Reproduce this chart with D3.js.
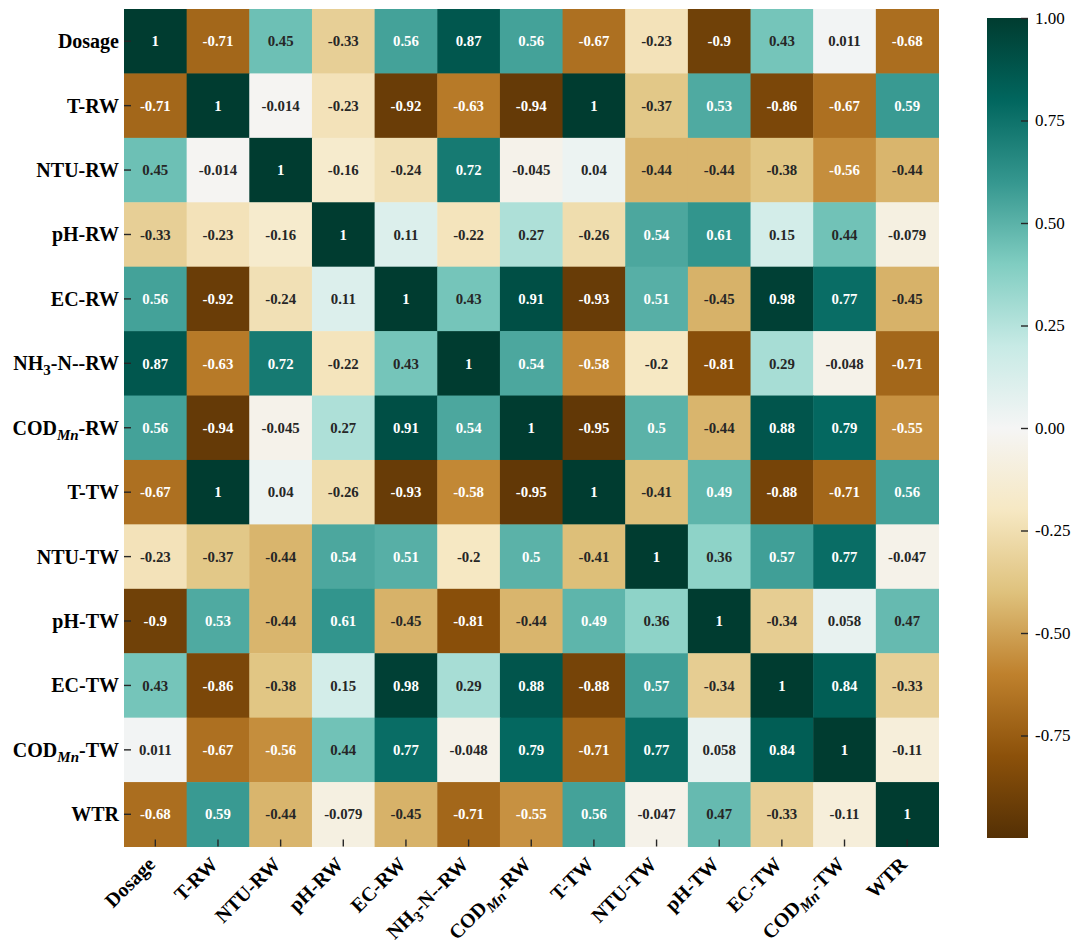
<!DOCTYPE html>
<html>
<head>
<meta charset="utf-8">
<script src="https://d3js.org/d3.v7.min.js"></script>
<style>
  body { margin: 0; background: #fff; }
  svg text { font-family: "Liberation Serif", "Times New Roman", serif; }
</style>
</head>
<body>
<svg id="chart" width="1080" height="952"></svg>
<script>
  // variable names (_{..} marks a subscript)
  var labels = ["Dosage", "T-RW", "NTU-RW", "pH-RW", "EC-RW", "NH_{3}-N--RW", "COD_{Mn}-RW",
                "T-TW", "NTU-TW", "pH-TW", "EC-TW", "COD_{Mn}-TW", "WTR"];

  // correlation matrix, row by row
  var rowDosage = [1, -0.71, 0.45, -0.33, 0.56, 0.87, 0.56, -0.67, -0.23, -0.9, 0.43, 0.011, -0.68];
  var rowTRW    = [-0.71, 1, -0.014, -0.23, -0.92, -0.63, -0.94, 1, -0.37, 0.53, -0.86, -0.67, 0.59];
  var rowNTURW  = [0.45, -0.014, 1, -0.16, -0.24, 0.72, -0.045, 0.04, -0.44, -0.44, -0.38, -0.56, -0.44];
  var rowPHRW   = [-0.33, -0.23, -0.16, 1, 0.11, -0.22, 0.27, -0.26, 0.54, 0.61, 0.15, 0.44, -0.079];
  var rowECRW   = [0.56, -0.92, -0.24, 0.11, 1, 0.43, 0.91, -0.93, 0.51, -0.45, 0.98, 0.77, -0.45];
  var rowNH3RW  = [0.87, -0.63, 0.72, -0.22, 0.43, 1, 0.54, -0.58, -0.2, -0.81, 0.29, -0.048, -0.71];
  var rowCODRW  = [0.56, -0.94, -0.045, 0.27, 0.91, 0.54, 1, -0.95, 0.5, -0.44, 0.88, 0.79, -0.55];
  var rowTTW    = [-0.67, 1, 0.04, -0.26, -0.93, -0.58, -0.95, 1, -0.41, 0.49, -0.88, -0.71, 0.56];
  var rowNTUTW  = [-0.23, -0.37, -0.44, 0.54, 0.51, -0.2, 0.5, -0.41, 1, 0.36, 0.57, 0.77, -0.047];
  var rowPHTW   = [-0.9, 0.53, -0.44, 0.61, -0.45, -0.81, -0.44, 0.49, 0.36, 1, -0.34, 0.058, 0.47];
  var rowECTW   = [0.43, -0.86, -0.38, 0.15, 0.98, 0.29, 0.88, -0.88, 0.57, -0.34, 1, 0.84, -0.33];
  var rowCODTW  = [0.011, -0.67, -0.56, 0.44, 0.77, -0.048, 0.79, -0.71, 0.77, 0.058, 0.84, 1, -0.11];
  var rowWTR    = [-0.68, 0.59, -0.44, -0.079, -0.45, -0.71, -0.55, 0.56, -0.047, 0.47, -0.33, -0.11, 1];
  var matrix = [rowDosage, rowTRW, rowNTURW, rowPHRW, rowECRW, rowNH3RW, rowCODRW,
                rowTTW, rowNTUTW, rowPHTW, rowECTW, rowCODTW, rowWTR];

  var cbTicks = [-0.75, -0.5, -0.25, 0, 0.25, 0.5, 0.75, 1];
  var vMin = -1, vMax = 1;

  // BrBG, piecewise linear like matplotlib
  var brbg = ["#543005", "#8c510a", "#bf812d", "#dfc27d", "#f6e8c3", "#f5f5f5",
              "#c7eae5", "#80cdc1", "#35978f", "#01665e", "#003c30"];
  var color = d3.scaleLinear()
    .domain(brbg.map(function(d, i) { return vMin + i * (vMax - vMin) / (brbg.length - 1); }))
    .range(brbg)
    .interpolate(d3.interpolateRgb)
    .clamp(true);

  // plot area (window.top is reserved, so prefixed names)
  var plotL = 124, plotT = 9, plotR = 938.5, plotB = 846.5;

  var svg = d3.select("#chart");

  var x = d3.scaleBand().domain(labels).range([plotL, plotR]);
  var y = d3.scaleBand().domain(labels).range([plotT, plotB]);

  // relative luminance to pick the annotation colour (as seaborn does)
  function luminance(c) {
    var rgb = d3.rgb(c);
    var v = [rgb.r, rgb.g, rgb.b].map(function(u) {
      u = u / 255;
      return u <= 0.03928 ? u / 12.92 : Math.pow((u + 0.055) / 1.055, 2.4);
    });
    return 0.2126 * v[0] + 0.7152 * v[1] + 0.0722 * v[2];
  }

  var cells = [];
  matrix.forEach(function(row, i) {
    row.forEach(function(v, j) {
      cells.push({ row: labels[i], col: labels[j], value: v });
    });
  });

  svg.append("g").selectAll("rect")
    .data(cells)
    .enter().append("rect")
    .attr("x", function(d) { return x(d.col); })
    .attr("y", function(d) { return y(d.row); })
    .attr("width", x.bandwidth() + 0.5)
    .attr("height", y.bandwidth() + 0.5)
    .attr("fill", function(d) { return color(d.value); });

  svg.append("g").selectAll("text")
    .data(cells)
    .enter().append("text")
    .attr("x", function(d) { return x(d.col) + x.bandwidth() / 2; })
    .attr("y", function(d) { return y(d.row) + y.bandwidth() / 2; })
    .attr("dy", "0.35em")
    .attr("text-anchor", "middle")
    .style("font-size", "14.8px")
    .style("font-weight", "bold")
    .attr("fill", function(d) { return luminance(color(d.value)) > 0.408 ? "#262626" : "#ffffff"; })
    .text(function(d) { return String(d.value); });

  // write a label with subscripts into a text element
  function writeLabel(sel, name) {
    sel.text(null);
    var parts = name.split(/_\{(.+?)\}/);
    parts.forEach(function(p, k) {
      if (p === "") return;
      var t = sel.append("tspan").text(p);
      if (k % 2 === 1) {
        t.attr("dy", 5).style("font-size", "15px");
        if (/[A-Za-z]/.test(p)) t.style("font-style", "italic");
      } else if (k > 0) {
        t.attr("dy", -5);
      }
    });
  }

  function styleAxis(g) {
    g.select(".domain").remove();
    g.selectAll(".tick line").attr("stroke", "#262626").attr("stroke-width", 1.4);
  }

  // y axis
  var gy = svg.append("g")
    .attr("transform", "translate(" + plotL + ",0)")
    .call(d3.axisLeft(y).tickSize(-7).tickPadding(5));
  styleAxis(gy);
  gy.selectAll(".tick text")
    .style("font-size", "20px")
    .style("font-weight", "bold")
    .attr("fill", "#000")
    .attr("dy", "0.35em")
    .each(function(d) { writeLabel(d3.select(this), d); });

  // x axis
  var gx = svg.append("g")
    .attr("transform", "translate(0," + plotB + ")")
    .call(d3.axisBottom(x).tickSize(-7));
  styleAxis(gx);
  gx.selectAll(".tick text")
    .style("font-size", "20px")
    .style("font-weight", "bold")
    .attr("fill", "#000")
    .attr("x", 0).attr("y", 0).attr("dy", 0)
    .attr("text-anchor", "end")
    .attr("transform", "translate(1,19) rotate(-45)")
    .each(function(d) { writeLabel(d3.select(this), d); });

  // colour bar
  var cbX = 987, cbW = 41, cbTop = 18, cbBottom = 838;
  var cbY = d3.scaleLinear().domain([vMin, vMax]).range([cbBottom, cbTop]);

  var grad = svg.append("defs").append("linearGradient")
    .attr("id", "cbgrad")
    .attr("x1", 0).attr("y1", 1).attr("x2", 0).attr("y2", 0);
  grad.selectAll("stop")
    .data(brbg)
    .enter().append("stop")
    .attr("offset", function(d, i) { return i / (brbg.length - 1); })
    .attr("stop-color", function(d) { return d; });

  svg.append("rect")
    .attr("x", cbX)
    .attr("y", cbTop)
    .attr("width", cbW)
    .attr("height", cbBottom - cbTop)
    .attr("fill", "url(#cbgrad)");

  var gc = svg.append("g")
    .attr("transform", "translate(" + (cbX + cbW) + ",0)")
    .call(d3.axisRight(cbY).tickValues(cbTicks).tickSize(-7).tickPadding(7)
      .tickFormat(function(d) { return d.toFixed(2); }));
  styleAxis(gc);
  gc.selectAll(".tick text")
    .style("font-size", "17px")
    .attr("fill", "#000");
</script>
</body>
</html>
